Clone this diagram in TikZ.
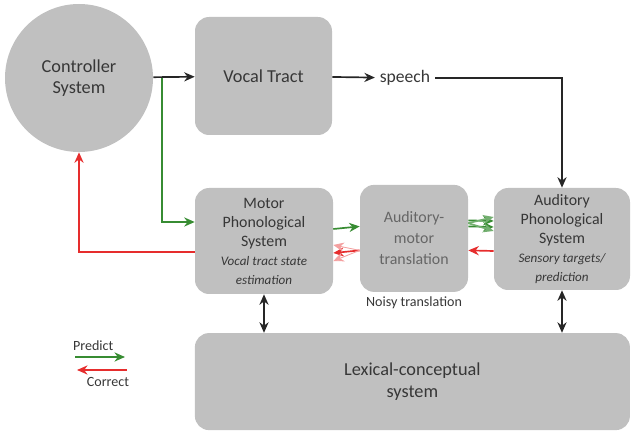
\documentclass[tikz,border=0pt]{standalone}
\usepackage{fontspec}
\setmainfont{Carlito}
\usepackage{tikz}
\usetikzlibrary{arrows.meta}

\definecolor{boxgray}{RGB}{192,192,192}
\definecolor{txtgray}{RGB}{55,55,55}
\definecolor{predgreen}{RGB}{55,140,50}
\definecolor{corrred}{RGB}{230,45,45}

\newcommand{\subtxt}{\fontsize{9.3}{11.5}\selectfont\itshape}

\begin{document}
\begin{tikzpicture}
	\useasboundingbox (0,0) rectangle (15.95,-10.95);
	\begin{scope}[every node/.style = {text = txtgray, align = center},
		blockbox/.style = {fill = boxgray, rounded corners = 10pt, inner sep = 2pt}]
		\node [circle, fill = boxgray, minimum size = 3.7cm, font = \fontsize{13}{15}\selectfont] (ctrl) at (1.975,-1.95) {Controller\\System};
		\node [blockbox, minimum width = 3.425cm, minimum height = 2.95cm, font = \fontsize{13}{15}\selectfont] (vocal) at (6.5875,-1.9) {Vocal Tract};
		\node [font = \fontsize{12.5}{15}\selectfont] (speech) at (10.125,-1.95) {speech};
		\node [blockbox, minimum width = 3.45cm, minimum height = 2.65cm, font = \fontsize{11.3}{13.5}\selectfont] (motor) at (6.6,-6.025)
			{Motor\\Phonological\\System\\ \subtxt Vocal tract state\\ \subtxt estimation};
		\node [blockbox, minimum width = 2.7cm, minimum height = 2.675cm, font = \fontsize{11.3}{15}\selectfont, text = gray!80!black] (trans) at (10.35,-5.96)
			{Auditory-\\motor\\translation};
		\node [font = \fontsize{10}{12}\selectfont] (noisy) at (10.35,-7.58) {Noisy translation};
		\node [blockbox, minimum width = 3.4cm, minimum height = 2.55cm, font = \fontsize{11.3}{13.5}\selectfont] (aud) at (14.05,-5.975)
			{Auditory\\Phonological\\System\\ \subtxt Sensory targets/\\ \subtxt prediction};
		\node [blockbox, minimum width = 10.875cm, minimum height = 2.425cm, font = \fontsize{13}{16}\selectfont] (lex) at (10.31,-9.54)
			{Lexical-conceptual\\system};
		% legend
		\node [font = \fontsize{10}{12}\selectfont] (pred) at (2.33,-8.65) {Predict};
		\node [font = \fontsize{10}{12}\selectfont] (corr) at (2.7,-9.55) {Correct};
	\end{scope}
	\coordinate (branch) at (4.05,-1.95);
	\coordinate (p1) at (1.875,-8.925);
	\coordinate (p2) at (3.125,-8.925);
	\coordinate (c1) at (3.175,-9.25);
	\coordinate (c2) at (1.925,-9.25);
	\begin{scope}[>={Stealth[length=7.5pt, width=6.5pt]},
			every edge/.style={draw=black!85, line width=1.2pt},
			predict/.style={draw=predgreen, line width=1.2pt},
			correct/.style={draw=corrred, line width=1.2pt}]
		\path [->] (ctrl) edge (vocal);
		\path [->] (vocal) edge (speech);
		\draw [->, draw=black!85, line width=1.2pt] (speech) -| (aud);
		\path [<->] (motor) edge (motor |- lex.north);
		\path [<->] (aud) edge (aud |- lex.north);
		% predict
		\draw [->, predict] (branch) |- ([yshift=0.475cm]motor.west);
		\draw [->, predict] ([yshift=0.3cm]motor.east) -- ([yshift=0.3cm]trans.west);
		\draw [->, predict] ([yshift=0.45cm]trans.east) -- ([yshift=0.45cm]aud.west);
		\draw [->, predict] ([yshift=0.3cm]trans.east) -- ([yshift=0.3cm]aud.west);
		\draw [->, predict, draw=predgreen!70] ([yshift=0.38cm]trans.east) -- ([yshift=0.55cm]aud.west);
		\draw [->, predict, draw=predgreen!70] ([yshift=0.38cm]trans.east) -- ([yshift=0.2cm]aud.west);
		\draw [->, predict] (p1) -- (p2);
		% correct
		\draw [->, correct] ([yshift=-0.275cm]motor.west) -| (ctrl.south);
		\draw [->, correct] ([yshift=-0.3cm]trans.west) -- ([yshift=-0.3cm]motor.east);
		\draw [->, correct, draw=corrred!45, line width=0.6pt] ([yshift=-0.3cm]trans.west) -- ([yshift=-0.1cm]motor.east);
		\draw [->, correct, draw=corrred!45, line width=0.6pt] ([yshift=-0.3cm]trans.west) -- ([yshift=-0.5cm]motor.east);
		\draw [->, correct] ([yshift=-0.3cm]aud.west) -- ([yshift=-0.3cm]trans.east);
		\draw [->, correct] (c1) -- (c2);
	\end{scope}
\end{tikzpicture}
\end{document}
